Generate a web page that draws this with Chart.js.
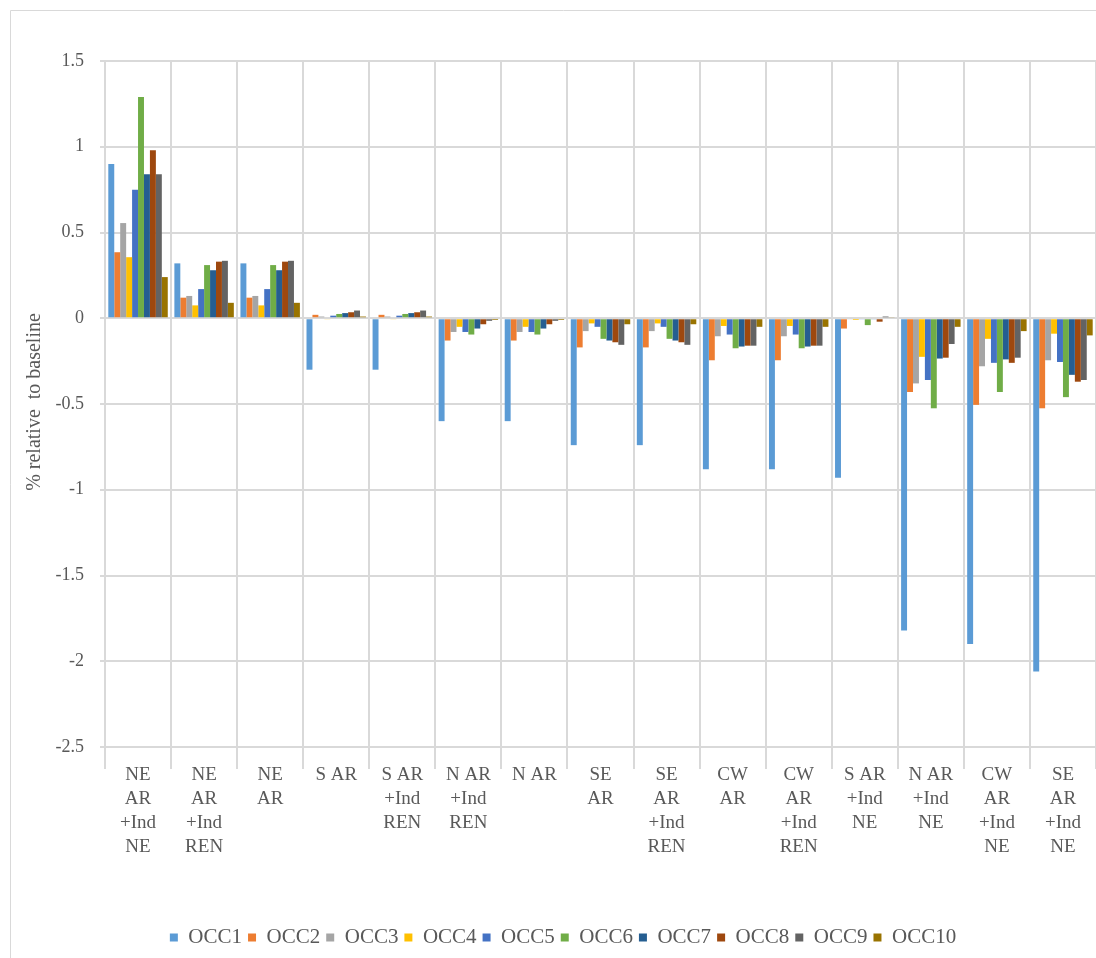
<!DOCTYPE html>
<html><head><meta charset="utf-8">
<script src="https://cdn.jsdelivr.net/npm/chart.js@4"></script>
<style>html,body{margin:0;padding:0;overflow:hidden;background:#fff}#wrap{position:relative;width:1126px;height:958px}</style>
</head><body><div id="wrap"><canvas id="c"></canvas></div>
<script>
const categories = [
  ["NE","AR","+Ind","NE"],
  ["NE","AR","+Ind","REN"],
  ["NE","AR"],
  ["S AR"],
  ["S AR","+Ind","REN"],
  ["N AR","+Ind","REN"],
  ["N AR"],
  ["SE","AR"],
  ["SE","AR","+Ind","REN"],
  ["CW","AR"],
  ["CW","AR","+Ind","REN"],
  ["S AR","+Ind","NE"],
  ["N AR","+Ind","NE"],
  ["CW","AR","+Ind","NE"],
  ["SE","AR","+Ind","NE"]
];
const seriesNames = ["OCC1","OCC2","OCC3","OCC4","OCC5","OCC6","OCC7","OCC8","OCC9","OCC10"];
const occ1  = [0.90, 0.32, 0.32, -0.30, -0.30, -0.60, -0.60, -0.74, -0.74, -0.88, -0.88, -0.93, -1.82, -1.90, -2.06];
const occ2  = [0.385, 0.12, 0.12, 0.02, 0.02, -0.13, -0.13, -0.17, -0.17, -0.245, -0.245, -0.06, -0.43, -0.505, -0.525];
const occ3  = [0.555, 0.13, 0.13, 0.01, 0.01, -0.08, -0.08, -0.075, -0.075, -0.105, -0.105, -0.005, -0.38, -0.28, -0.245];
const occ4  = [0.356, 0.075, 0.075, -0.005, -0.005, -0.05, -0.05, -0.03, -0.03, -0.045, -0.045, -0.01, -0.225, -0.12, -0.09];
const occ5  = [0.75, 0.17, 0.17, 0.015, 0.015, -0.08, -0.08, -0.05, -0.05, -0.095, -0.095, -0.005, -0.36, -0.26, -0.255];
const occ6  = [1.29, 0.31, 0.31, 0.025, 0.025, -0.095, -0.095, -0.12, -0.12, -0.175, -0.175, -0.04, -0.525, -0.43, -0.46];
const occ7  = [0.84, 0.28, 0.28, 0.03, 0.03, -0.06, -0.06, -0.13, -0.13, -0.165, -0.165, -0.005, -0.235, -0.24, -0.33];
const occ8  = [0.98, 0.33, 0.33, 0.035, 0.035, -0.035, -0.035, -0.14, -0.14, -0.16, -0.16, -0.02, -0.23, -0.26, -0.37];
const occ9  = [0.84, 0.335, 0.335, 0.045, 0.045, -0.015, -0.015, -0.155, -0.155, -0.16, -0.16, 0.01, -0.15, -0.23, -0.36];
const occ10 = [0.24, 0.09, 0.09, 0.01, 0.01, -0.01, -0.01, -0.035, -0.035, -0.05, -0.05, 0.005, -0.05, -0.075, -0.10];
const yTickValues = [-2.5, -2, -1.5, -1, -0.5, 0, 0.5, 1, 1.5];
const yTitle = "% relative  to baseline";

const seriesValues = [occ1, occ2, occ3, occ4, occ5, occ6, occ7, occ8, occ9, occ10];
const colors = ["#5B9BD5","#ED7D31","#A5A5A5","#FFC000","#4472C4","#70AD47","#255E91","#9E480E","#636363","#997300"];
const FONT = "'Liberation Serif', 'Times New Roman', serif";
const TXT = "#595959";
const GRID = "#d9d9d9";

const framePlugin = {
  id: 'frame',
  afterLayout(chart) {
    if (chart.legend) { chart.legend.left += 15; chart.legend.right += 15; }
  },
  beforeDraw(chart) {
    const ctx = chart.ctx;
    ctx.save();
    ctx.strokeStyle = GRID;
    ctx.lineWidth = 1;
    ctx.beginPath();
    ctx.moveTo(10.5, 960); ctx.lineTo(10.5, 10.5); ctx.lineTo(1116.5, 10.5);
    ctx.stroke();
    ctx.restore();
  },
  afterDraw(chart) {
    const ctx = chart.ctx;
    ctx.save();
    ctx.translate(35, 402);
    ctx.rotate(-Math.PI / 2);
    ctx.fillStyle = TXT;
    ctx.font = "20px " + FONT;
    ctx.textAlign = 'center';
    ctx.textBaseline = 'middle';
    ctx.fillText(yTitle, 0, 0);
    ctx.restore();
  }
};

new Chart(document.getElementById('c'), {
  type: 'bar',
  data: {
    labels: categories,
    datasets: seriesNames.map((n, i) => ({
      label: n,
      data: seriesValues[i],
      backgroundColor: colors[i],
      borderWidth: 0,
      categoryPercentage: 0.9,
      barPercentage: 1.0
    }))
  },
  options: {
    responsive: true,
    maintainAspectRatio: false,
    devicePixelRatio: 1,
    animation: false,
    layout: { padding: { top: 61, left: 0, right: 30, bottom: 0 } },
    plugins: {
      tooltip: { enabled: false },
      legend: {
        position: 'bottom',
        labels: {
          boxWidth: 8, boxHeight: 8, padding: 6,
          color: TXT,
          font: { family: FONT, size: 21 }
        }
      }
    },
    scales: {
      x: {
        type: 'category',
        offset: true,
        grid: { offset: true, color: GRID, lineWidth: 2, tickLength: 22, drawTicks: true },
        border: { color: GRID, width: 2 },
        ticks: {
          color: TXT, font: { family: FONT, size: 19, lineHeight: 1.26 },
          padding: -6, maxRotation: 0, minRotation: 0, autoSkip: false
        },
        afterFit(s) { s.height = 174; }
      },
      y: {
        min: -2.5, max: 1.5,
        afterBuildTicks(s) { s.ticks = yTickValues.map(v => ({ value: v })); },
        grid: { color: GRID, lineWidth: 2, tickLength: 5 },
        border: { color: GRID, width: 2 },
        ticks: {
          color: TXT, font: { family: FONT, size: 18 }, padding: 16,
          callback: v => String(Math.round(v * 10) / 10)
        },
        afterFit(s) { s.width = 105; }
      }
    }
  },
  plugins: [framePlugin]
});
</script>
</body></html>
